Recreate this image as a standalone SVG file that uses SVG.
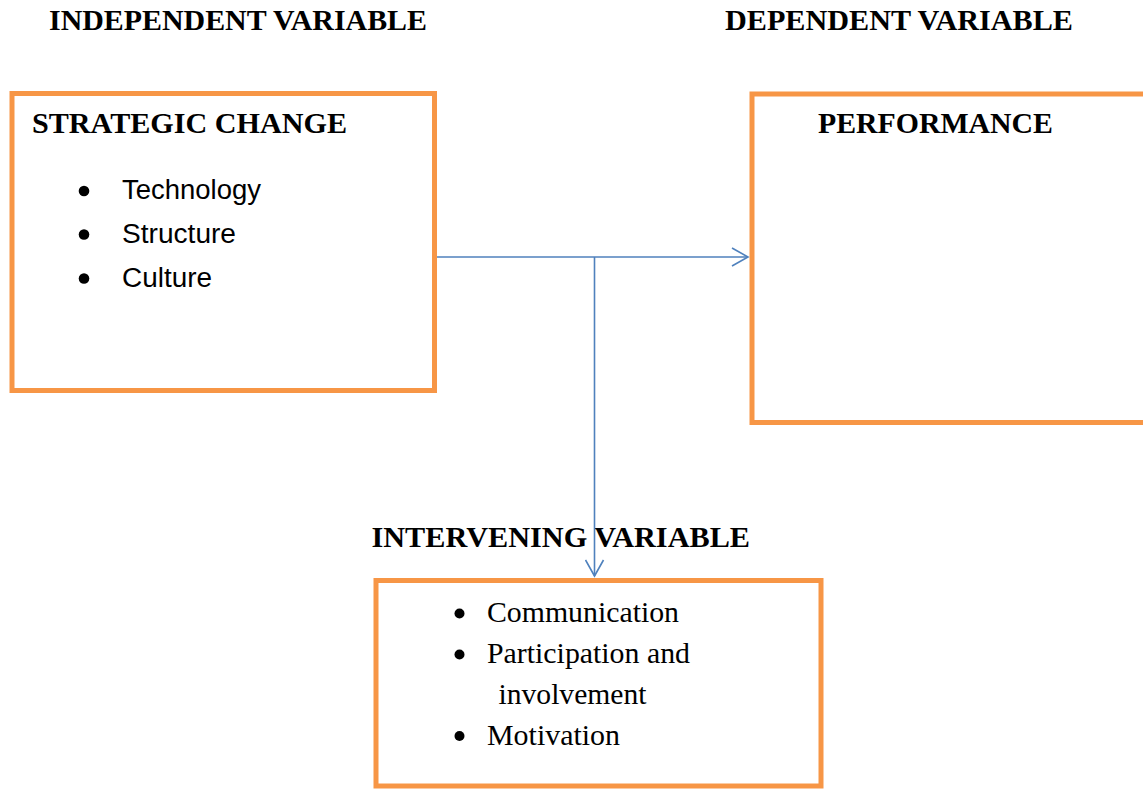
<svg xmlns="http://www.w3.org/2000/svg" width="1143" height="789" viewBox="0 0 1143 789">
  <style>
    .box { fill: #ffffff; stroke: #F79646; stroke-width: 5; }
    .head { font-family: "Liberation Serif", "Times New Roman", serif; font-weight: bold; font-size: 30px; fill: #000; }
    .sans { font-family: "Liberation Sans", Arial, sans-serif; font-size: 27px; fill: #000; }
    .serif { font-family: "Liberation Serif", "Times New Roman", serif; font-size: 30px; fill: #000; }
    .conn { fill: none; stroke: #4F81BD; stroke-width: 1.6; }
    .dot { fill: #000; }
  </style>
  <defs>
    <marker id="arrow" viewBox="0 0 20 20" refX="17" refY="10" markerWidth="20" markerHeight="20" markerUnits="userSpaceOnUse" orient="auto">
      <path d="M1,1 L17,10 L1,19" fill="none" stroke="#4F81BD" stroke-width="1.6"/>
    </marker>
  </defs>
  <rect width="1143" height="789" fill="#ffffff"/>

  <g id="label-independent">
    <text class="head" x="49" y="30" textLength="378" lengthAdjust="spacingAndGlyphs">INDEPENDENT VARIABLE</text>
  </g>
  <g id="label-dependent">
    <text class="head" x="725" y="30" textLength="348" lengthAdjust="spacingAndGlyphs">DEPENDENT VARIABLE</text>
  </g>

  <g id="node-strategic-change">
    <rect class="box" x="12" y="93.5" width="422.5" height="297"/>
    <text class="head" x="32" y="133" textLength="315" lengthAdjust="spacingAndGlyphs">STRATEGIC CHANGE</text>
    <circle class="dot" cx="84" cy="191" r="5.3"/>
    <text class="sans" x="122" y="199" textLength="139" lengthAdjust="spacingAndGlyphs">Technology</text>
    <circle class="dot" cx="84" cy="234.5" r="5.3"/>
    <text class="sans" x="122" y="242.5" textLength="114" lengthAdjust="spacingAndGlyphs">Structure</text>
    <circle class="dot" cx="84" cy="278.5" r="5.3"/>
    <text class="sans" x="122" y="286.5" textLength="90" lengthAdjust="spacingAndGlyphs">Culture</text>
  </g>

  <g id="node-performance">
    <rect class="box" x="752" y="94" width="400" height="328.5"/>
    <text class="head" x="818" y="133" textLength="235" lengthAdjust="spacingAndGlyphs">PERFORMANCE</text>
  </g>

  <g id="label-intervening">
    <text class="head" x="371.5" y="546.5" textLength="378.5" lengthAdjust="spacingAndGlyphs">INTERVENING VARIABLE</text>
  </g>

  <g id="node-intervening">
    <rect class="box" x="376" y="580.5" width="445" height="205.5"/>
    <circle class="dot" cx="459.5" cy="613.5" r="5"/>
    <text class="serif" x="487" y="621.5" textLength="192" lengthAdjust="spacingAndGlyphs">Communication</text>
    <circle class="dot" cx="459.5" cy="654.5" r="5"/>
    <text class="serif" x="487" y="662.5" textLength="203" lengthAdjust="spacingAndGlyphs">Participation and</text>
    <text class="serif" x="498.5" y="703.5" textLength="148" lengthAdjust="spacingAndGlyphs">involvement</text>
    <circle class="dot" cx="459.5" cy="736" r="5"/>
    <text class="serif" x="487" y="744.5" textLength="133" lengthAdjust="spacingAndGlyphs">Motivation</text>
  </g>

  <g id="connectors">
    <path class="conn" d="M437,257 L748,257" marker-end="url(#arrow)"/>
    <path class="conn" d="M594.5,257 L594.5,576" marker-end="url(#arrow)"/>
  </g>
</svg>
